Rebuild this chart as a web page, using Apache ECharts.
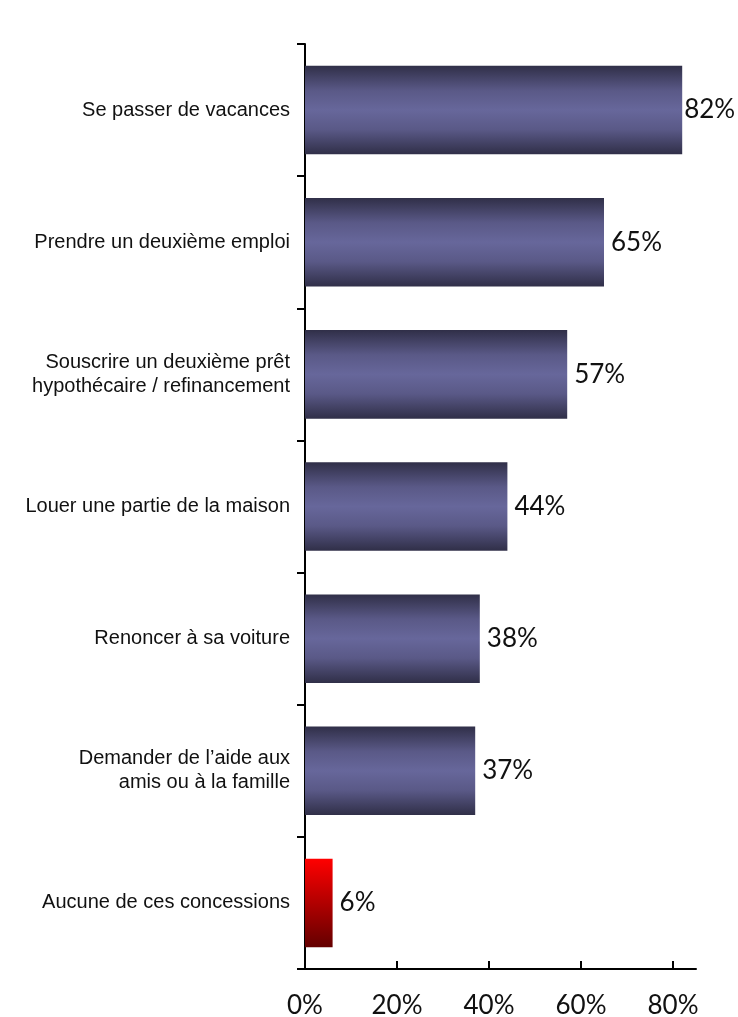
<!DOCTYPE html>
<html>
<head>
<meta charset="utf-8">
<script src="https://cdn.jsdelivr.net/npm/echarts@6/dist/echarts.min.js"></script>
<style>
  html, body { margin: 0; padding: 0; background: #fff; }
  #chart { width: 738px; height: 1017px; }
</style>
</head>
<body>
<div id="chart"></div>
<script>
const categories = [
  'Se passer de vacances',
  'Prendre un deuxième emploi',
  'Souscrire un deuxième prêt\nhypothécaire / refinancement',
  'Louer une partie de la maison',
  'Renoncer à sa voiture',
  'Demander de l’aide aux\namis ou à la famille',
  'Aucune de ces concessions'
]
const values = [82, 65, 57, 44, 38, 37, 6]
const highlighted = [false, false, false, false, false, false, true]
const xTicks = [0, 20, 40, 60, 80]

const blueFill = new echarts.graphic.LinearGradient(0, 0, 0, 1, [
  { offset: 0, color: '#302f48' },
  { offset: 0.28, color: '#5a5987' },
  { offset: 0.5, color: '#67679b' },
  { offset: 0.72, color: '#5a5987' },
  { offset: 1, color: '#302f48' }
])
const redFill = new echarts.graphic.LinearGradient(0, 0, 0, 1, [
  { offset: 0, color: '#ff0000' },
  { offset: 1, color: '#640000' }
])

const chart = echarts.init(document.getElementById('chart'))
chart.setOption({
  animation: false,
  grid: { top: 44, right: 42, bottom: 48, left: 305, outerBoundsMode: 'none', containLabel: false },
  xAxis: {
    type: 'value',
    min: 0,
    max: 85,
    splitLine: { show: false },
    axisLine: { show: true, lineStyle: { color: '#000', width: 2 } },
    axisTick: { show: true, inside: true, length: 8, customValues: xTicks, lineStyle: { color: '#000', width: 2 } },
    axisLabel: {
      customValues: xTicks,
      formatter: '{value}%',
      margin: 24,
      color: '#111',
      fontFamily: 'Lato, "Open Sans", sans-serif',
      fontSize: 26
    }
  },
  yAxis: {
    type: 'category',
    inverse: true,
    data: categories,
    axisLine: { show: true, lineStyle: { color: '#000', width: 2 } },
    axisTick: { show: true, length: 8, lineStyle: { color: '#000', width: 2 } },
    axisLabel: {
      margin: 15,
      color: '#111',
      fontFamily: '"Liberation Sans Narrow", "Arial Narrow", "Liberation Sans", Arial, sans-serif',
      fontSize: 20,
      lineHeight: 24
    }
  },
  series: [
    {
      type: 'bar',
      barWidth: '67%',
      data: values.map((v, i) => ({
        value: v,
        itemStyle: { color: highlighted[i] ? redFill : blueFill },
        label: i === 0 ? { distance: 2 } : {}
      })),
      label: {
        show: true,
        position: 'right',
        distance: 7,
        formatter: '{c}%',
        color: '#111',
        fontFamily: 'Lato, "Open Sans", sans-serif',
        fontSize: 26
      }
    }
  ]
})
</script>
</body>
</html>
